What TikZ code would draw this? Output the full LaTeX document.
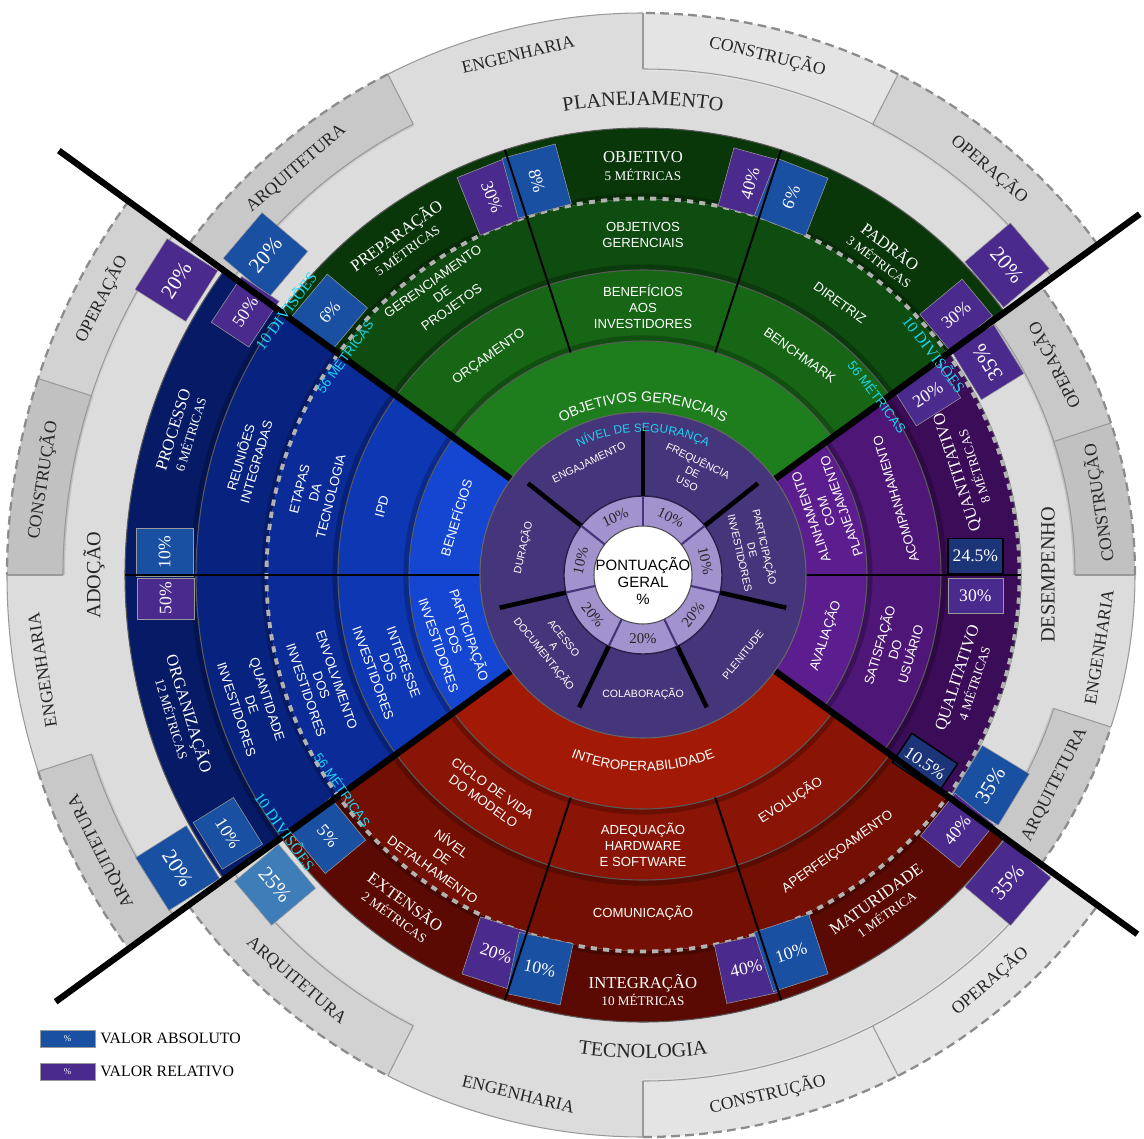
\documentclass[tikz,border=0pt]{standalone}
\usepackage{fontspec}
\setmainfont{Liberation Serif}
\setsansfont{Liberation Sans}
\usetikzlibrary{decorations.text}

\definecolor{greenA}{HTML}{1E7E1E}
\definecolor{greenB}{HTML}{166616}
\definecolor{greenC}{HTML}{0F4C10}
\definecolor{greenD}{HTML}{0A370A}
\definecolor{redA}{HTML}{A21A06}
\definecolor{redB}{HTML}{8A1405}
\definecolor{redC}{HTML}{731003}
\definecolor{redD}{HTML}{5A0A02}
\definecolor{blueA}{HTML}{1446D2}
\definecolor{blueB}{HTML}{0E37B4}
\definecolor{blueC}{HTML}{0A2B98}
\definecolor{blueD}{HTML}{08237F}
\definecolor{blueE}{HTML}{061A66}
\definecolor{purpA}{HTML}{5C1D8E}
\definecolor{purpB}{HTML}{4E1777}
\definecolor{purpC}{HTML}{3B0C57}
\definecolor{coreP}{HTML}{45357A}
\definecolor{coreL}{HTML}{A292CE}
\definecolor{absblue}{HTML}{1A50A2}
\definecolor{relpurp}{HTML}{4B2A8E}
\definecolor{navybox}{HTML}{1C3478}
\definecolor{paleabs}{HTML}{3E7DB8}
\definecolor{cyanlab}{HTML}{1CD4F0}
\definecolor{band}{HTML}{DCDCDC}
\definecolor{sunkA}{HTML}{C8C8C8}
\definecolor{sunkB}{HTML}{D2D2D2}
\definecolor{sunkC}{HTML}{E4E4E4}
\definecolor{sunkD}{HTML}{C1C1C1}

% one piece of a ring: start angle, end angle, inner r, outer r, options
\newcommand\ringpatch[5]{%
  \path[#5] (#1:#3) arc[start angle=#1,end angle=#2,radius=#3]
    -- (#2:#4) arc[start angle=#2,end angle=#1,radius=#4] -- cycle;}

\begin{document}
\begin{tikzpicture}[scale=2,
    ringedge/.style={black!65,line width=0.6pt},
    ringshade/.style={black,opacity=0.22,line width=3pt},
    celledge/.style={black!40,line width=0.6pt},
    rimdash/.style={black!45,line width=1.3pt,dash pattern=on 5pt off 3pt},
    dotring/.style={black!30,line width=2.2pt,dash pattern=on 3.5pt off 3.5pt},
    bigcut/.style={black,line width=3.6pt},
    midcut/.style={black,line width=1.4pt},
    subcut/.style={black,line width=1.1pt},
    corecut/.style={black,line width=2.6pt},
    pctbox/.style={inner sep=0pt,text=white,draw=black!40,line width=0.3pt,
      font=\fontsize{10}{10}\selectfont},
    absbox/.style={pctbox,fill=absblue},
    relbox/.style={pctbox,fill=relpurp},
    bigpct/.style={font=\fontsize{12}{12}\selectfont}]
\useasboundingbox (-6.43,-5.63) rectangle (5.01,5.75);

% grey bands round the four quarters
\ringpatch{36}{144}{4.40}{5.06}{fill=band}
\ringpatch{216}{324}{4.40}{5.06}{fill=band}
\ringpatch{144}{216}{5.10}{5.80}{fill=band}
\ringpatch{-36}{36}{3.70}{4.32}{fill=band}

% outer cells
\foreach \ta/\tb/\col in {117/144/sunkA,90/117/band,63/90/sunkC,36/63/sunkB,
    216/243/sunkB,243/270/band,270/297/sunkC,297/324/sunkC}
  {\ringpatch{\ta}{\tb}{5.04}{5.62}{fill=\col}}
\foreach \ta/\tb/\col in {144/162/sunkB,162/180/sunkD,180/198/band,198/216/sunkA}
  {\ringpatch{\ta}{\tb}{5.78}{6.36}{fill=\col}}
\foreach \ta/\tb/\col in {18/36/sunkA,0/18/sunkD,-18/0/band,-36/-18/sunkA}
  {\ringpatch{\ta}{\tb}{4.30}{4.92}{fill=\col}}

% cell rims
\foreach \ta/\tb in {117/144,63/90,36/63,216/243,270/297,297/324}
  {\draw[rimdash] (\ta:5.62) arc[start angle=\ta,end angle=\tb,radius=5.62];
   \draw[celledge] (\ta:5.06) arc[start angle=\ta,end angle=\tb,radius=5.06];}
\foreach \ta/\tb in {144/162,162/180,198/216}
  {\draw[rimdash] (\ta:6.36) arc[start angle=\ta,end angle=\tb,radius=6.36];
   \draw[celledge] (\ta:5.80) arc[start angle=\ta,end angle=\tb,radius=5.80];}
\foreach \ta/\tb in {18/36,0/18,-36/-18}
  {\draw[rimdash] (\ta:4.92) arc[start angle=\ta,end angle=\tb,radius=4.92];
   \draw[celledge] (\ta:4.32) arc[start angle=\ta,end angle=\tb,radius=4.32];}
\draw[celledge] (90:5.62) arc[start angle=90,end angle=117,radius=5.62];
\draw[celledge] (243:5.62) arc[start angle=243,end angle=270,radius=5.62];
\draw[celledge] (180:6.36) arc[start angle=180,end angle=198,radius=6.36];
\draw[celledge] (-18:4.92) arc[start angle=-18,end angle=0,radius=4.92];
\foreach \ta in {63,90,117,243,270,297} \draw[celledge] (\ta:5.06) -- (\ta:5.62);
\foreach \ta in {162,180,198} \draw[celledge] (\ta:5.80) -- (\ta:6.36);
\foreach \ta in {-18,0,18} \draw[celledge] (\ta:4.32) -- (\ta:4.92);

% coloured quarters
\foreach \ri/\ro/\col in {1.6/2.34/greenA,2.34/3.05/greenB,3.05/3.76/greenC,3.76/4.47/greenD}
  {\ringpatch{36}{144}{\ri}{\ro}{fill=\col}}
\foreach \ri/\ro/\col in {1.6/2.34/redA,2.34/3.05/redB,3.05/3.76/redC,3.76/4.47/redD}
  {\ringpatch{216}{324}{\ri}{\ro}{fill=\col}}
\foreach \ri/\ro/\col in {1.6/2.34/blueA,2.34/3.05/blueB,3.05/3.76/blueC,3.76/4.47/blueD,4.47/5.18/blueE}
  {\ringpatch{144}{216}{\ri}{\ro}{fill=\col}}
\foreach \ri/\ro/\col in {1.6/2.24/purpA,2.24/2.98/purpB,2.98/3.78/purpC}
  {\ringpatch{-36}{36}{\ri}{\ro}{fill=\col}}

% soft shadow just outside each ring edge, then the edge itself
\foreach \r in {2.37,3.08,3.79}
  {\draw[ringshade] (36:\r) arc[start angle=36,end angle=144,radius=\r];
   \draw[ringshade] (216:\r) arc[start angle=216,end angle=324,radius=\r];
   \draw[ringshade] (144:\r) arc[start angle=144,end angle=216,radius=\r];}
\draw[ringshade] (144:4.50) arc[start angle=144,end angle=216,radius=4.50];
\foreach \r in {2.27,3.01}
  \draw[ringshade] (-36:\r) arc[start angle=-36,end angle=36,radius=\r];
\foreach \r in {2.34,3.05,4.47}
  {\draw[ringedge] (36:\r) arc[start angle=36,end angle=144,radius=\r];
   \draw[ringedge] (216:\r) arc[start angle=216,end angle=324,radius=\r];}
\foreach \r in {2.34,3.05,4.47,5.18}
  \draw[ringedge] (144:\r) arc[start angle=144,end angle=216,radius=\r];
\foreach \r in {2.24,2.98,3.78}
  \draw[ringedge] (-36:\r) arc[start angle=-36,end angle=36,radius=\r];
\draw[dotring] (0,0) circle (3.765);

% percentage boxes
\node[relbox,minimum width=1.24cm,minimum height=1.0cm,rotate=-68.2] (rel30a) at (111.8:4.07) {30\%};
\node[absbox,minimum width=1.24cm,minimum height=1.1cm,rotate=-74.9] (abs8) at (105.1:4.08) {8\%};
\node[relbox,minimum width=1.2cm,minimum height=1.0cm,rotate=74.7] (rel40a) at (74.7:4.06) {40\%};
\node[absbox,minimum width=1.24cm,minimum height=1.1cm,rotate=68.6] (abs6a) at (68.6:4.06) {6\%};

\node[absbox,bigpct,minimum width=1.2cm,minimum height=1.2cm,rotate=49.7] (abs20a) at (139.7:4.95) {20\%};
\node[relbox,bigpct,minimum width=1.2cm,minimum height=1.2cm,rotate=57.7] (rel20a) at (147.7:5.52) {20\%};
\node[relbox,minimum width=1.1cm,minimum height=0.9cm,rotate=56.5] (rel50a) at (146.5:4.77) {50\%};
\node[absbox,minimum width=1.1cm,minimum height=1.05cm,rotate=50] (abs6b) at (140:4.09) {6\%};

\node[absbox,minimum width=0.96cm,minimum height=1.14cm,rotate=90] (abs10a) at (177.3:4.79) {10\%};
\node[relbox,minimum width=0.82cm,minimum height=1.14cm,rotate=90] (rel50b) at (182.8:4.78) {50\%};

\node[pctbox,fill=navybox,draw=black,line width=0.8pt,minimum width=1.1cm,minimum height=0.7cm] (abs245) at (3.3:3.33) {24.5\%};
\node[relbox,minimum width=1.1cm,minimum height=0.7cm] (rel30b) at (-3.6:3.33) {30\%};

\node[relbox,bigpct,minimum width=1.2cm,minimum height=1.2cm,rotate=-49.6] (rel20b) at (40.4:4.78) {20\%};
\node[relbox,minimum width=1.1cm,minimum height=0.95cm,rotate=39.7] (rel30c) at (39.7:4.07) {30\%};
\node[relbox,bigpct,minimum width=1.15cm,minimum height=1.0cm,rotate=121.7] (rel35a) at (31.7:4.05) {35\%};
\node[relbox,minimum width=1.05cm,minimum height=0.8cm,rotate=32.3] (rel20c) at (32.3:3.37) {20\%};

\node[pctbox,fill=navybox,draw=black,line width=0.8pt,minimum width=1.1cm,minimum height=0.7cm,rotate=-33.7] (abs105) at (-33.7:3.39) {10.5\%};
\node[absbox,bigpct,minimum width=1.2cm,minimum height=1.1cm,rotate=58.8] (abs35) at (-31.2:4.06) {35\%};
\node[relbox,minimum width=1.1cm,minimum height=1.0cm,rotate=50.9] (rel40b) at (-39.1:4.05) {40\%};
\node[relbox,bigpct,minimum width=1.25cm,minimum height=1.2cm,rotate=49.9] (rel35b) at (-40.1:4.77) {35\%};

\node[absbox,minimum width=1.1cm,minimum height=0.95cm,rotate=-58.1] (abs10b) at (211.9:4.89) {10\%};
\node[absbox,bigpct,minimum width=1.25cm,minimum height=1.2cm,rotate=-57.8] (abs20b) at (212.2:5.50) {20\%};
\node[pctbox,bigpct,fill=paleabs,minimum width=1.15cm,minimum height=1.15cm,rotate=-49.9] (abs25) at (220.1:4.81) {25\%};
\node[absbox,minimum width=1.1cm,minimum height=1.05cm,rotate=-50.4] (abs5) at (219.6:4.09) {5\%};

\node[relbox,minimum width=1.05cm,minimum height=1.2cm,rotate=-18] (rel20d) at (248.8:4.06) {20\%};
\node[absbox,minimum width=1.1cm,minimum height=1.25cm,rotate=-12] (abs10c) at (255.3:4.07) {10\%};
\node[relbox,minimum width=1.05cm,minimum height=1.2cm,rotate=12] (rel40c) at (284.7:4.07) {40\%};
\node[absbox,minimum width=1.15cm,minimum height=1.25cm,rotate=18] (abs10d) at (291.4:4.06) {10\%};

% dividing lines
\foreach \ta/\tl in {144/7.22,216/7.26,36/6.14,-36/6.11}
  \draw[bigcut] (\ta:1.6) -- (\ta:\tl);
\draw[midcut] (180:1.6) -- (180:5.18) (0:1.6) -- (0:3.78);
\foreach \ta in {72,108,252,288} \draw[subcut] (\ta:2.34) -- (\ta:4.47);

% core disc
\fill[coreP] (0,0) circle (1.63);
\draw[black!60,line width=0.6pt] (0,0) circle (1.63);
\fill[coreL] (0,0) circle (0.79);
\draw[coreP!60!black,line width=0.8pt] (0,0) circle (0.79);
\fill[white] (0,0) circle (0.49);
\draw[black!70,line width=0.6pt] (0,0) circle (0.49);
\foreach \ta in {90,141.43,192.86,244.29,295.71,347.14,38.57}
  {\draw[corecut] (\ta:0.79) -- (\ta:1.47);
   \draw[coreP,line width=1.2pt] (\ta:0.49) -- (\ta:0.79);}

\node[font=\sffamily\fontsize{8.5}{9.8}\selectfont,align=center,inner sep=0pt] (score) at (0,-0.06) {PONTUAÇÃO\\GERAL\\\%};

\begin{scope}[every node/.style={font=\fontsize{8.5}{9}\selectfont,text=black!85,inner sep=0pt}]
  \node[rotate=25.71] (pEng) at (115.71:0.64) {10\%};
  \node[rotate=-25.71] (pFreq) at (64.29:0.64) {10\%};
  \node[rotate=-77.14] (pPart) at (12.86:0.64) {10\%};
  \node[rotate=51.43] (pPlen) at (-38.57:0.64) {20\%};
  \node (pColab) at (-90:0.64) {20\%};
  \node[rotate=-51.43] (pAces) at (-141.43:0.64) {20\%};
  \node[rotate=77.14] (pDur) at (167.14:0.64) {10\%};
\end{scope}

\begin{scope}[every node/.style={font=\sffamily\fontsize{6}{7.2}\selectfont,text=white,align=center,inner sep=0pt}]
  \node[rotate=25.7] (engaj) at (115.7:1.25) {ENGAJAMENTO};
  \node[rotate=-25.7] (freq) at (64.3:1.15) {FREQUÊNCIA\\DE\\USO};
  \node[rotate=-77.1] (partinv) at (12.9:1.13) {PARTICIPAÇÃO\\DE\\INVESTIDORES};
  \node[rotate=51.4] (plen) at (-38.6:1.28) {PLENITUDE};
  \node (colab) at (-90:1.19) {COLABORAÇÃO};
  \node[rotate=-51.4] (acesso) at (-141.4:1.15) {ACESSO\\A\\DOCUMENTAÇÃO};
  \node[rotate=77.1] (duracao) at (167.1:1.23) {DURAÇÃO};
\end{scope}

\path[decorate,decoration={text along path,text align=center,text color=cyanlab,
    text={|\sffamily\fontsize{6.8}{7}\selectfont|NÍVEL DE SEGURANÇA}}]
  (125:1.43) arc[start angle=125,end angle=55,radius=1.43];
\path[decorate,decoration={text along path,text align=center,text color=white,
    text={|\sffamily\fontsize{8}{9}\selectfont|OBJETIVOS GERENCIAIS}}]
  (130:1.73) arc[start angle=130,end angle=50,radius=1.73];
\path[decorate,decoration={text along path,text align=center,text color=white,
    text={|\sffamily\fontsize{7.6}{9}\selectfont|INTEROPERABILIDADE}}]
  (230:1.96) arc[start angle=230,end angle=310,radius=1.96];

% ring labels
\begin{scope}[every node/.style={font=\sffamily\fontsize{7.5}{9.2}\selectfont,text=white,align=center,inner sep=0pt}]
  \node[rotate=35.2] (orcamento) at (125.2:2.67) {ORÇAMENTO};
  \node (benefinv) at (90:2.68) {BENEFÍCIOS\\AOS\\INVESTIDORES};
  \node[rotate=-35.5] (benchmark) at (54.5:2.70) {BENCHMARK};
  \node[rotate=35.6] (gerproj) at (125.6:3.45) {GERENCIAMENTO\\DE\\PROJETOS};
  \node (objger) at (90:3.40) {OBJETIVOS\\GERENCIAIS};
  \node[rotate=-35.9] (diretriz) at (54.1:3.36) {DIRETRIZ};
  \node[rotate=-35.2] (ciclo) at (234.8:2.69) {CICLO DE VIDA\\DO MODELO};
  \node (adequacao) at (270:2.70) {ADEQUAÇÃO\\HARDWARE\\E SOFTWARE};
  \node[rotate=33.2] (evolucao) at (-56.8:2.69) {EVOLUÇÃO};
  \node[rotate=-35.5] (detalhe) at (234.5:3.45) {NÍVEL\\DE\\DETALHAMENTO};
  \node (comunic) at (270:3.38) {COMUNICAÇÃO};
  \node[rotate=35.1] (aperf) at (-54.9:3.39) {APERFEIÇOAMENTO};
  \node[rotate=72.9] (benef) at (162.9:1.96) {BENEFÍCIOS};
  \node[rotate=75.3] (ipd) at (165.3:2.70) {IPD};
  \node[rotate=75.9] (etapas) at (165.9:3.38) {ETAPAS\\DA\\TECNOLOGIA};
  \node[rotate=73.7] (reunioes) at (163.7:4.12) {REUNIÕES\\INTEGRADAS};
  \node[rotate=-71] (particip) at (199:1.99) {PARTICIPAÇÃO\\DOS\\INVESTIDORES};
  \node[rotate=-70] (interesse) at (200:2.71) {INTERESSE\\DOS\\INVESTIDORES};
  \node[rotate=-71.1] (envolv) at (198.9:3.40) {ENVOLVIMENTO\\DOS\\INVESTIDORES};
  \node[rotate=-71.7] (quantid) at (198.3:4.12) {QUANTIDADE\\DE\\INVESTIDORES};
  \node[rotate=109.1] (alinh) at (19.1:1.94) {ALINHAMENTO\\COM\\PLANEJAMENTO};
  \node[rotate=106.7] (acomp) at (16.7:2.64) {ACOMPANHAMENTO};
  \node[rotate=71.5] (avalia) at (-18.5:1.92) {AVALIAÇÃO};
  \node[rotate=73.5] (satisf) at (-16.5:2.62) {SATISFAÇÃO\\DO\\USUÁRIO};
\end{scope}

% outer ring titles
\begin{scope}[every node/.style={font=\fontsize{9.5}{10}\selectfont,text=white,align=center,inner sep=0pt}]
  \node[rotate=36] (preparacao) at (126:4.12) {PREPARAÇÃO\\{\fontsize{7.5}{8}\selectfont 5 MÉTRICAS}};
  \node (objetivo) at (90:4.09) {OBJETIVO\\{\fontsize{7.5}{8}\selectfont 5 MÉTRICAS}};
  \node[rotate=-37] (padrao) at (53:4.03) {PADRÃO\\{\fontsize{7.5}{8}\selectfont 3 MÉTRICAS}};
  \node[rotate=-36] (extensao) at (234:4.12) {EXTENSÃO\\{\fontsize{7.5}{8}\selectfont 2 MÉTRICAS}};
  \node (integracao) at (270:4.15) {INTEGRAÇÃO\\{\fontsize{7.5}{8}\selectfont 10 MÉTRICAS}};
  \node[rotate=35.7] (maturidade) at (-54.3:4.08) {MATURIDADE\\{\fontsize{7.5}{8}\selectfont 1 MÉTRICA}};
  \node[rotate=72.8] (processo) at (162.8:4.83) {PROCESSO\\{\fontsize{7.5}{8}\selectfont 6 MÉTRICAS}};
  \node[rotate=-73] (organiz) at (197:4.82) {ORGANIZAÇÃO\\{\fontsize{7.5}{8}\selectfont 12 MÉTRICAS}};
  \node[rotate=108.1] (quanti) at (18.1:3.39) {QUANTITATIVO\\{\fontsize{7.5}{8}\selectfont 8 MÉTRICAS}};
  \node[rotate=71.9] (quali) at (-18.1:3.39) {QUALITATIVO\\{\fontsize{7.5}{8}\selectfont 4 MÉTRICAS}};
\end{scope}

% counts along the dashed ring
\begin{scope}[every node/.style={text=cyanlab,inner sep=0pt}]
  \node[font=\fontsize{9}{9}\selectfont,rotate=53.5] (divTL) at (143.5:4.45) {10 DIVISÕES};
  \node[font=\sffamily\fontsize{7.5}{8}\selectfont,rotate=54] (metTL) at (143.8:3.70) {56 MÉTRICAS};
  \node[font=\fontsize{9}{9}\selectfont,rotate=-52.5] (divTR) at (37.2:3.66) {10 DIVISÕES};
  \node[font=\sffamily\fontsize{7.5}{8}\selectfont,rotate=-52.7] (metTR) at (37.3:2.95) {56 MÉTRICAS};
  \node[font=\fontsize{9}{9}\selectfont,rotate=-54.5] (divBL) at (215.6:4.40) {10 DIVISÕES};
  \node[font=\sffamily\fontsize{7.5}{8}\selectfont,rotate=-54.4] (metBL) at (215.6:3.69) {56 MÉTRICAS};
\end{scope}

% grey ring labels
\path[decorate,decoration={text along path,text align=center,text color=black!85,
    text={|\fontsize{11.5}{12}\selectfont|PLANEJAMENTO}}]
  (105:4.70) arc[start angle=105,end angle=75,radius=4.70];
\path[decorate,decoration={text along path,text align=center,text color=black!85,
    text={|\fontsize{11.5}{12}\selectfont|TECNOLOGIA}}]
  (255:4.83) arc[start angle=255,end angle=285,radius=4.83];
\begin{scope}[every node/.style={font=\fontsize{11.5}{12}\selectfont,text=black!85,inner sep=0pt}]
  \node[rotate=90] (adocao) at (180:5.49) {ADOÇÃO};
  \node[rotate=90] (desemp) at (0:4.05) {DESEMPENHO};
\end{scope}
\begin{scope}[every node/.style={font=\fontsize{10}{11}\selectfont,text=black!85,inner sep=0pt}]
  \node[rotate=40.5] (arqT) at (130.5:5.34) {ARQUITETURA};
  \node[rotate=13.5] (engT) at (103.5:5.35) {ENGENHARIA};
  \node[rotate=-13.5] (conT) at (76.5:5.34) {CONSTRUÇÃO};
  \node[rotate=-40.5] (opT) at (49.5:5.34) {OPERAÇÃO};
  \node[rotate=-40.5] (arqB) at (229.5:5.34) {ARQUITETURA};
  \node[rotate=-13.5] (engB) at (256.5:5.34) {ENGENHARIA};
  \node[rotate=13.5] (conB) at (283.5:5.34) {CONSTRUÇÃO};
  \node[rotate=40.5] (opB) at (310.5:5.34) {OPERAÇÃO};
  \node[rotate=63] (opL) at (153:6.08) {OPERAÇÃO};
  \node[rotate=81] (conL) at (171:6.08) {CONSTRUÇÃO};
  \node[rotate=99] (engL) at (189:6.08) {ENGENHARIA};
  \node[rotate=117] (arqL) at (207:6.08) {ARQUITETURA};
  \node[rotate=117] (opR) at (27:4.62) {OPERAÇÃO};
  \node[rotate=99] (conR) at (9:4.62) {CONSTRUÇÃO};
  \node[rotate=81] (engR) at (-9:4.62) {ENGENHARIA};
  \node[rotate=63] (arqR) at (-27:4.62) {ARQUITETURA};
\end{scope}

% legend
\node[absbox,minimum width=1.1cm,minimum height=0.34cm,font=\fontsize{5}{5}\selectfont] (legAbs) at (-5.755,-4.635) {\%};
\node[relbox,minimum width=1.1cm,minimum height=0.34cm,font=\fontsize{5}{5}\selectfont] (legRel) at (-5.755,-4.965) {\%};
\node[anchor=west,font=\fontsize{9}{9.5}\selectfont,inner sep=0pt] (legAbsTxt) at (-5.43,-4.635) {VALOR ABSOLUTO};
\node[anchor=west,font=\fontsize{9}{9.5}\selectfont,inner sep=0pt] (legRelTxt) at (-5.43,-4.965) {VALOR RELATIVO};
\end{tikzpicture}
\end{document}
